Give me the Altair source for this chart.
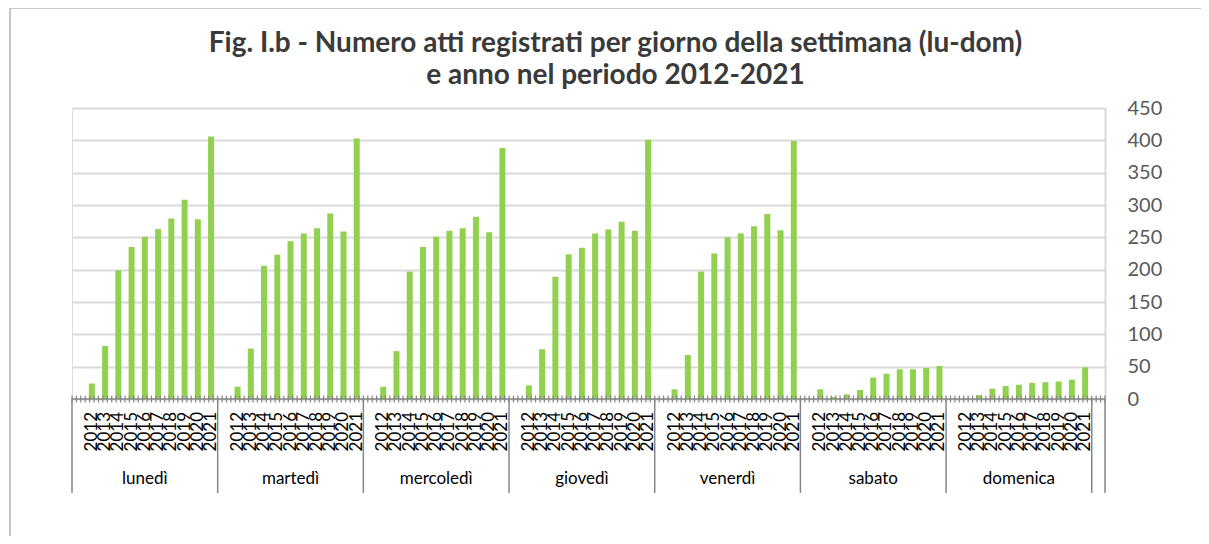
import altair as alt
import pandas as pd

years = ['2012', '2013', '2014', '2015', '2016', '2017', '2018', '2019', '2020', '2021']
days = ['lunedì', 'martedì', 'mercoledì', 'giovedì', 'venerdì', 'sabato', 'domenica']

lunedi = [24, 82, 199, 235, 251, 263, 279, 308, 278, 406]
martedi = [19, 78, 206, 223, 244, 256, 264, 287, 259, 403]
mercoledi = [19, 74, 197, 235, 251, 260, 264, 282, 258, 388]
giovedi = [21, 77, 189, 224, 234, 256, 262, 274, 260, 401]
venerdi = [15, 68, 197, 225, 250, 256, 267, 286, 261, 399]
sabato = [15, 3, 7, 14, 33, 39, 46, 46, 48, 51]
domenica = [0, 6, 16, 20, 22, 25, 26, 27, 30, 49]

y_ticks = [0, 50, 100, 150, 200, 250, 300, 350, 400, 450]

title_lines = ["Fig. I.b - Numero atti registrati per giorno della settimana (lu-dom)",
               "e anno nel periodo 2012-2021"]

series = [lunedi, martedi, mercoledi, giovedi, venerdi, sabato, domenica]

W, H = 1033, 291
FONT = "Lato"

# category slots: one empty slot before each day's years, plus one trailing slot
keys = []
for d in days:
    keys.append(d + " _")
    keys.extend(d + " " + y for y in years)
keys.append("_end")

rows = []
for d, vals in zip(days, series):
    for y, v in zip(years, vals):
        rows.append({"key": d + " " + y, "day": d, "year": y, "value": v})
df = pd.DataFrame(rows)

day_df = pd.DataFrame({"key": [d + " 2016" for d in days], "day": days})
sep_df = pd.DataFrame({"key": [d + " _" for d in days] + ["_end"]})
end_df = pd.DataFrame({"key": ["_end"]})
tick_df = pd.DataFrame({"t": list(range(0, 3 * len(keys) + 1))})

xs = alt.Scale(domain=keys, paddingInner=0, paddingOuter=0)

bars = alt.Chart(df).mark_bar(size=6, color="#92d050").encode(
    x=alt.X("key:N", scale=xs, axis=None, sort=keys),
    y=alt.Y("value:Q",
            scale=alt.Scale(domain=[0, 450], nice=False),
            axis=alt.Axis(orient="right", values=y_ticks, title=None,
                          grid=True, gridColor="#d9d9d9", gridWidth=2,
                          domain=True, domainColor="#d9d9d9", domainWidth=2,
                          ticks=False, labelPadding=22, labelFont=FONT,
                          labelFontSize=20, labelColor="#595959")),
)

year_text = alt.Chart(df).mark_text(
    angle=270, align="right", baseline="middle", font=FONT, fontSize=17,
    color="#000000"
).encode(
    x=alt.X("key:N", scale=xs, axis=None, sort=keys),
    y=alt.value(H + 13),
    text="year:N",
)

day_text = alt.Chart(day_df).mark_text(
    align="center", baseline="middle", font=FONT, fontSize=17, color="#000000"
).encode(
    x=alt.X("key:N", scale=xs, axis=None, sort=keys, bandPosition=0.5),
    y=alt.value(H + 80),
    text="day:N",
)

seps = alt.Chart(sep_df).mark_rule(color="#868686", strokeWidth=1.5).encode(
    x=alt.X("key:N", scale=xs, axis=None, sort=keys, bandPosition=0),
    y=alt.value(H),
    y2=alt.value(H + 94),
)
end_sep = alt.Chart(end_df).mark_rule(color="#868686", strokeWidth=1.5).encode(
    x=alt.X("key:N", scale=xs, axis=None, sort=keys, bandPosition=1),
    y=alt.value(H),
    y2=alt.value(H + 94),
)

minor = alt.Chart(tick_df).mark_rule(color="#868686", strokeWidth=1.2).encode(
    x=alt.X("t:Q", scale=alt.Scale(domain=[0, 3 * len(keys)], nice=False, zero=False), axis=None),
    y=alt.value(H - 3.5),
    y2=alt.value(H + 3.5),
)

baseline = alt.Chart(end_df).mark_rule(color="#868686", strokeWidth=1.5).encode(
    x=alt.value(0), x2=alt.value(W), y=alt.value(H),
)

frame = alt.Chart(end_df).mark_rect(
    fillOpacity=0, stroke="#c8c8c8", strokeWidth=2, clip=False
).encode(
    x=alt.value(-62), x2=alt.value(W + 130),
    y=alt.value(-100), y2=alt.value(H + 140),
)

title1 = alt.Chart(end_df).mark_text(
    text=title_lines[0], font=FONT, fontSize=28, fontWeight="bold",
    color="#3a3a3a", align="center", baseline="middle"
).encode(x=alt.value(W / 2 + 27), y=alt.value(-64))

title2 = alt.Chart(end_df).mark_text(
    text=title_lines[1], font=FONT, fontSize=28, fontWeight="bold",
    color="#3a3a3a", align="center", baseline="middle"
).encode(x=alt.value(W / 2 + 27), y=alt.value(-32))

chart = alt.layer(
    frame, bars, minor, baseline, seps, end_sep, year_text, day_text, title1, title2
).resolve_scale(x="independent").properties(
    width=W, height=H,
    padding={"left": 64, "top": 100, "right": 96, "bottom": 137},
    autosize=alt.AutoSizeParams(type="none"),
).configure_view(stroke=None).configure(background="white")

chart.save("out.html", embed_options={"renderer": "svg", "actions": False})
